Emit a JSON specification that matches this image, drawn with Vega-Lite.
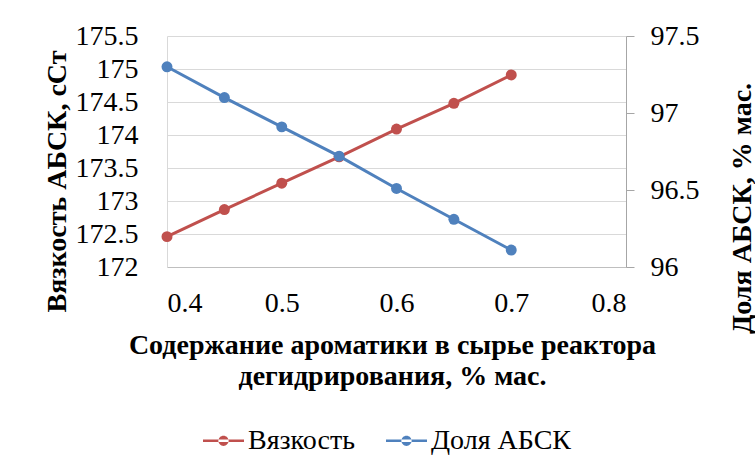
{
  "$schema": "https://vega.github.io/schema/vega-lite/v6.json",
  "width": 459,
  "height": 231,
  "autosize": {"type": "none"},
  "padding": {"left": 167, "top": 36, "right": 129, "bottom": 202},
  "background": "white",
  "config": {
    "font": "Liberation Serif",
    "view": {"stroke": null}
  },
  "data": {
    "values": [
      {"x": 0.4, "series": "Вязкость", "value": 172.46},
      {"x": 0.45, "series": "Вязкость", "value": 172.87},
      {"x": 0.5, "series": "Вязкость", "value": 173.27},
      {"x": 0.55, "series": "Вязкость", "value": 173.67},
      {"x": 0.6, "series": "Вязкость", "value": 174.09},
      {"x": 0.65, "series": "Вязкость", "value": 174.48},
      {"x": 0.7, "series": "Вязкость", "value": 174.91},
      {"x": 0.4, "series": "Доля АБСК", "value": 97.30},
      {"x": 0.45, "series": "Доля АБСК", "value": 97.10},
      {"x": 0.5, "series": "Доля АБСК", "value": 96.91},
      {"x": 0.55, "series": "Доля АБСК", "value": 96.72},
      {"x": 0.6, "series": "Доля АБСК", "value": 96.51},
      {"x": 0.65, "series": "Доля АБСК", "value": 96.31},
      {"x": 0.7, "series": "Доля АБСК", "value": 96.11}
    ]
  },
  "encoding": {
    "x": {
      "field": "x",
      "type": "quantitative",
      "scale": {"domain": [0.4, 0.8], "nice": false, "zero": false},
      "axis": {
        "values": [0.4, 0.5, 0.6, 0.7, 0.8],
        "format": "~g",
        "grid": false,
        "ticks": false,
        "tickSize": 0,
        "labelPadding": 22,
        "labelFont": "Liberation Serif",
        "labelFontSize": 28,
        "labelColor": "black",
        "domainColor": "#bfbfbf",
        "title": ["Содержание ароматики в сырье реактора", "дегидрирования, % мас."],
        "titleFont": "Liberation Serif",
        "titleFontSize": 28,
        "titleFontWeight": "bold",
        "titleColor": "black",
        "titleLineHeight": 31,
        "titleX": 225,
        "titleY": 86,
        "titleAlign": "center",
        "titleBaseline": "alphabetic"
      }
    },
    "color": {
      "field": "series",
      "type": "nominal",
      "scale": {"domain": ["Вязкость", "Доля АБСК"], "range": ["#C0504D", "#4F81BD"]},
      "legend": {
        "orient": "none",
        "legendX": 36,
        "legendY": 384,
        "direction": "horizontal",
        "title": null,
        "padding": 0,
        "symbolType": "M-1,-0.06L1,-0.06L1,0.06L-1,0.06Z M-0.25,0A0.25,0.25,0,1,0,0.25,0A0.25,0.25,0,1,0,-0.25,0Z",
        "symbolSize": 1681,
        "symbolStrokeWidth": 0,
        "symbolOpacity": 1,
        "labelFont": "Liberation Serif",
        "labelFontSize": 28,
        "labelColor": "black",
        "labelOffset": 4,
        "columnPadding": 31,
        "encode": {
          "symbols": {
            "update": {
              "fill": {"scale": "color", "field": "value"},
              "stroke": {"scale": "color", "field": "value"}
            }
          }
        }
      }
    }
  },
  "layer": [
    {
      "transform": [{"filter": "datum.series === 'Вязкость'"}],
      "mark": {"type": "line", "strokeWidth": 3, "point": {"filled": true, "size": 120}},
      "encoding": {
        "y": {
          "field": "value",
          "type": "quantitative",
          "scale": {"domain": [172, 175.5], "nice": false, "zero": false},
          "axis": {
            "orient": "left",
            "values": [172, 172.5, 173, 173.5, 174, 174.5, 175, 175.5],
            "format": "~g",
            "grid": true,
            "gridColor": "#d9d9d9",
            "domainColor": "#d9d9d9",
            "ticks": false,
            "tickSize": 0,
            "labelPadding": 29,
            "labelFont": "Liberation Serif",
            "labelFontSize": 28,
            "labelColor": "black",
            "title": "Вязкость АБСК, сСт",
            "titleFont": "Liberation Serif",
            "titleFontSize": 28,
            "titleFontWeight": "bold",
            "titleColor": "black",
            "titleAngle": 270,
            "titleX": -102,
            "titleY": 145,
            "titleAlign": "center",
            "titleBaseline": "alphabetic"
          }
        }
      }
    },
    {
      "transform": [{"filter": "datum.series === 'Доля АБСК'"}],
      "mark": {"type": "line", "strokeWidth": 3, "point": {"filled": true, "size": 120}},
      "encoding": {
        "y": {
          "field": "value",
          "type": "quantitative",
          "scale": {"domain": [96, 97.5], "nice": false, "zero": false},
          "axis": {
            "orient": "right",
            "values": [96, 96.5, 97, 97.5],
            "format": "~g",
            "grid": false,
            "domainColor": "#a6a6a6",
            "ticks": true,
            "tickSize": 8,
            "tickColor": "#a6a6a6",
            "labelPadding": 16,
            "labelFont": "Liberation Serif",
            "labelFontSize": 28,
            "labelColor": "black",
            "title": "Доля АБСК, % мас.",
            "titleFont": "Liberation Serif",
            "titleFontSize": 28,
            "titleFontWeight": "bold",
            "titleColor": "black",
            "titleAngle": 270,
            "titleX": 124,
            "titleY": 172,
            "titleAlign": "center",
            "titleBaseline": "alphabetic"
          }
        }
      }
    }
  ],
  "resolve": {"scale": {"y": "independent"}}
}
